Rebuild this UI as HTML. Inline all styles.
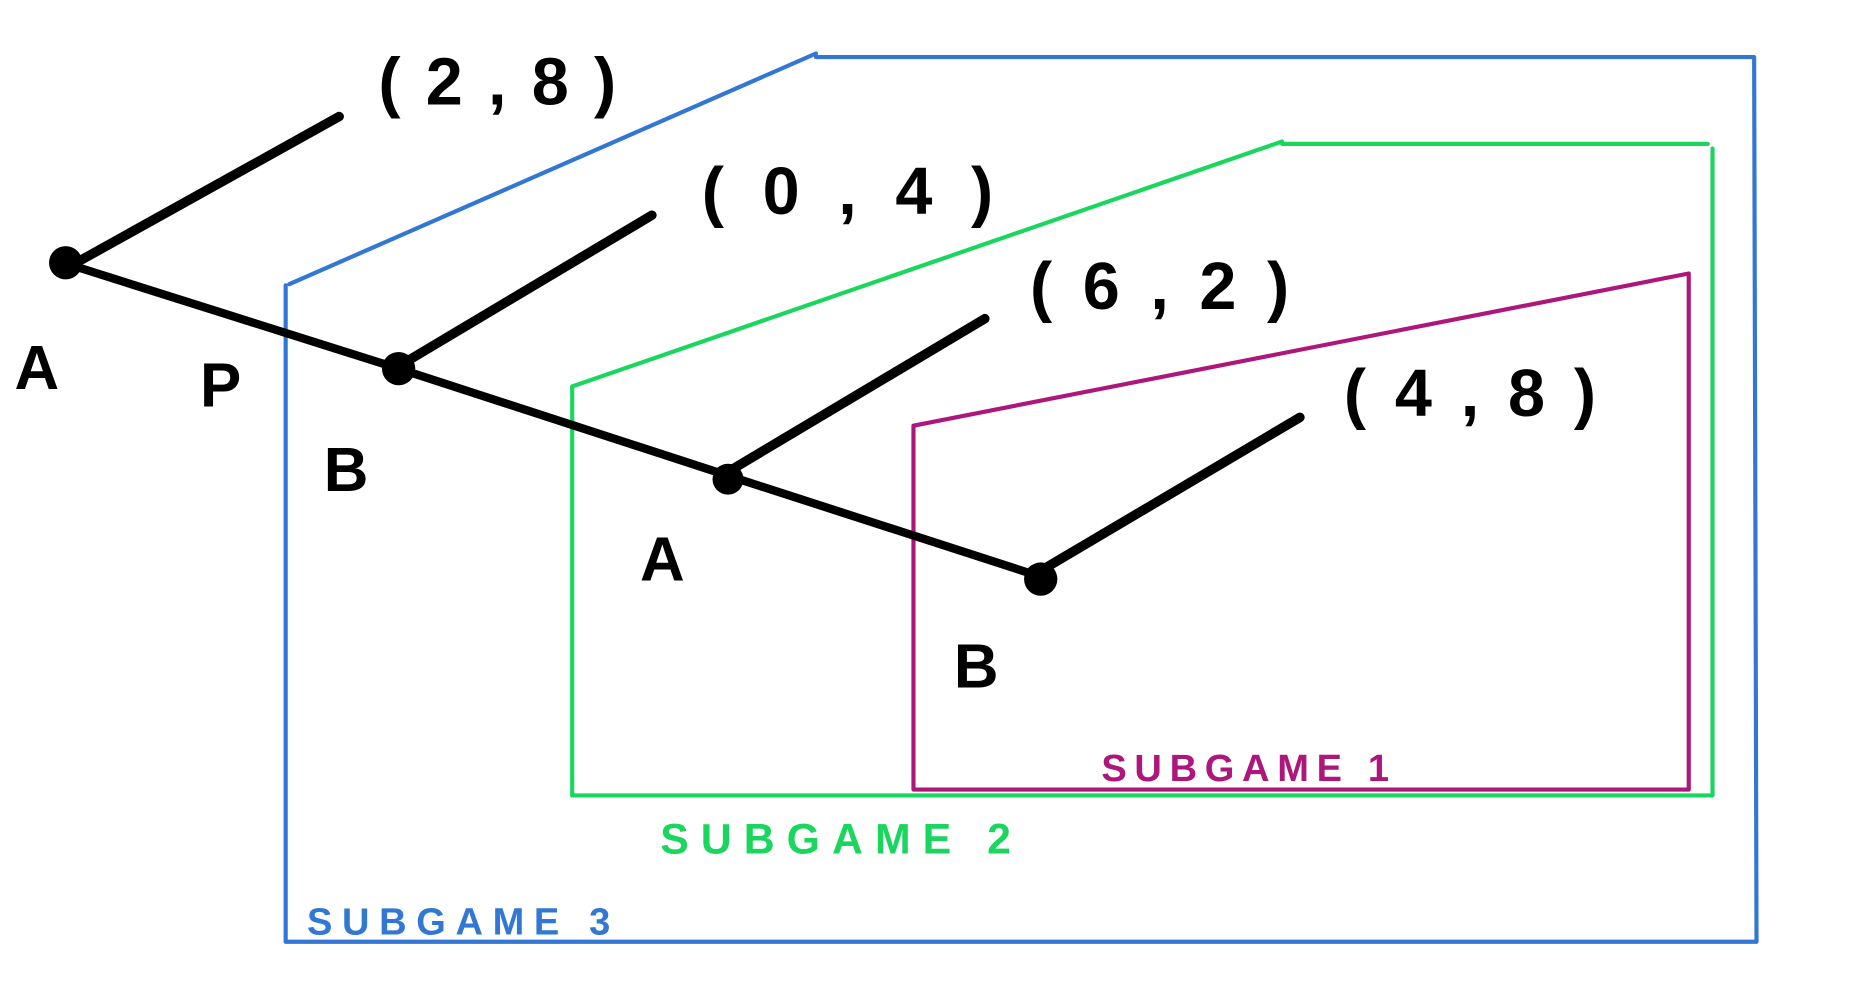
<!DOCTYPE html>
<html><head><style>html,body{margin:0;padding:0;background:#fff;overflow:hidden}svg{display:block}</style></head>
<body>
<svg width="1865" height="1000" viewBox="0 0 1568 841" xmlns="http://www.w3.org/2000/svg" font-family="Liberation Sans, sans-serif">
<g fill="none" stroke-linecap="round" stroke-linejoin="round">
<g stroke="#3277d3" stroke-width="3.5">
<polyline points="240,240 240,792 1477,792 1475,48 686,48"/>
<line x1="686" y1="45" x2="243" y2="239"/>
</g>
<g stroke="#1bd65e" stroke-width="3.5">
<polyline points="481,325 481,669 1440,669 1440,125"/>
<line x1="1078" y1="121" x2="1436" y2="121"/>
<line x1="1078" y1="119" x2="481" y2="325"/>
</g>
<g stroke="#ad177c" stroke-width="3.5">
<polygon points="768,358 768,664 1420,664 1420,230"/>
</g>
<g stroke="#000" stroke-width="7">
<polyline points="50,220 335,310 612,400 875,485"/>
</g>
<g stroke="#000" stroke-width="8">
<line x1="62" y1="222" x2="285" y2="98"/>
<line x1="340" y1="305" x2="548" y2="181"/>
<line x1="615" y1="395" x2="828" y2="268"/>
<line x1="875" y1="480" x2="1093" y2="351"/>
</g>
</g>
<g fill="#000">
<circle cx="55" cy="221" r="14"/><circle cx="335" cy="310" r="14"/><circle cx="612" cy="403" r="13"/><circle cx="875" cy="487" r="14"/>
</g>
<g font-size="52" font-weight="bold" fill="#000">
<text x="12" y="327">A</text>
<text x="168" y="342">P</text>
<text x="272" y="413">B</text>
<text x="538" y="488">A</text>
<text x="802" y="578">B</text>
<text x="318" y="88" font-size="56" textLength="200" lengthAdjust="spacing">(2,8)</text>
<text x="590" y="180" font-size="56" textLength="245" lengthAdjust="spacing">(0,4)</text>
<text x="866" y="260" font-size="56" textLength="218" lengthAdjust="spacing">(6,2)</text>
<text x="1130" y="350" font-size="56" textLength="212" lengthAdjust="spacing">(4,8)</text>
</g>
<text x="926" y="657" font-size="32" font-weight="bold" fill="#ad177c" textLength="242" lengthAdjust="spacing">SUBGAME 1</text>
<text x="555" y="718" font-size="36" font-weight="bold" fill="#1bd65e" textLength="295" lengthAdjust="spacing">SUBGAME 2</text>
<text x="258" y="786" font-size="32" font-weight="bold" fill="#3277d3" textLength="255" lengthAdjust="spacing">SUBGAME 3</text>
</svg>
</body></html>
